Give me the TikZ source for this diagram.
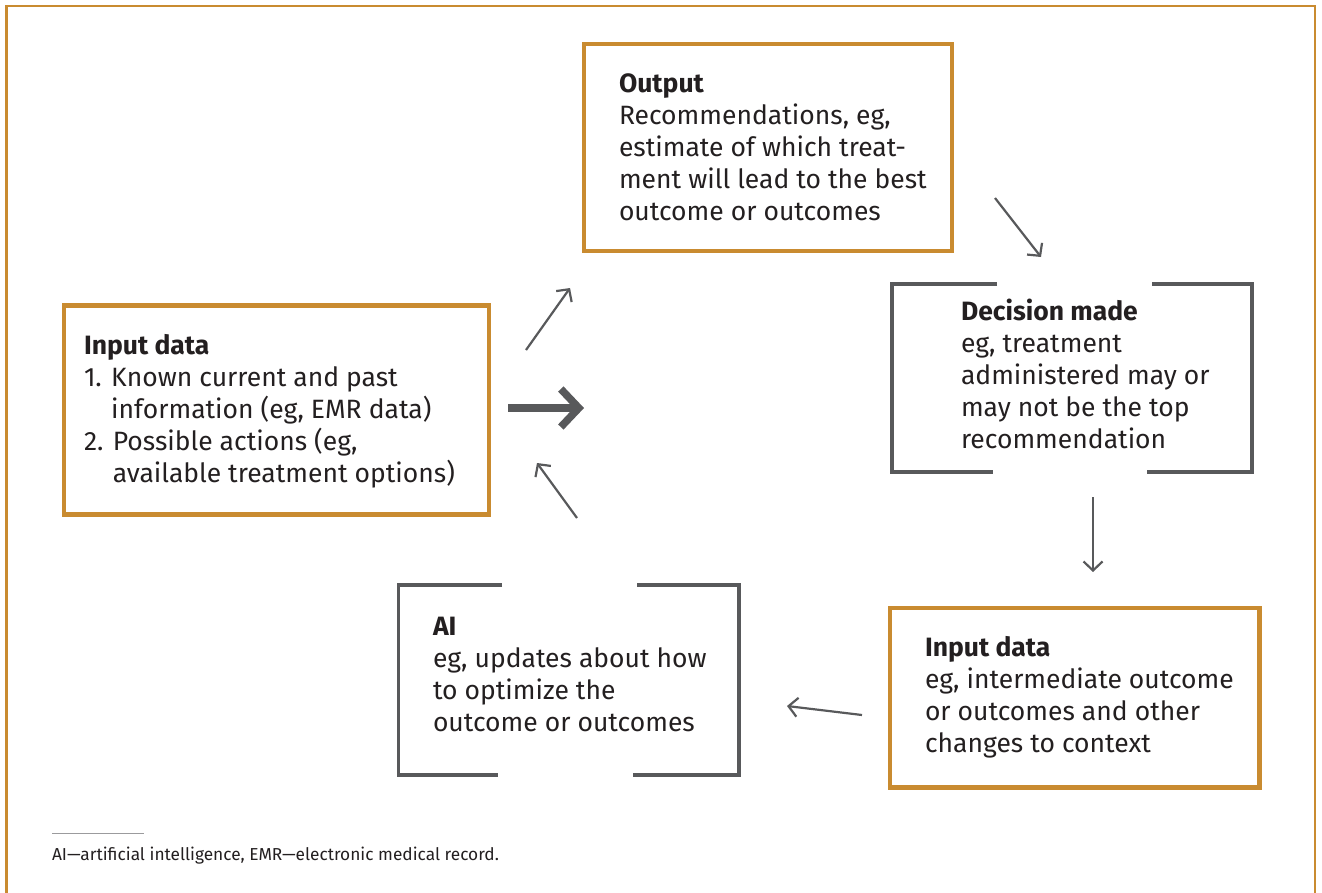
\documentclass[tikz,border=0pt]{standalone}
\usepackage{fontspec}
\setmainfont{Fira Sans}
\usetikzlibrary{arrows.meta,calc}
\definecolor{frameor}{HTML}{C98B30}
\definecolor{linegray}{HTML}{58595B}
\definecolor{txt}{HTML}{231F20}
\begin{document}
\begin{tikzpicture}[x=1pt,y=-1pt,
  orangebox/.style={draw=frameor, line width=4.5pt, inner sep=0pt, outer sep=0pt},
  hidbox/.style={inner sep=0pt, outer sep=0pt},
  bracket/.style={draw=linegray, line width=3.5pt},
  body/.style={anchor=base west, inner sep=0pt, outer sep=0pt, align=left, text=txt, font=\fontsize{26.5}{32}\selectfont},
  note/.style={anchor=base west, inner sep=0pt, outer sep=0pt, text=txt, font=\fontsize{17.3}{22}\selectfont},
  conn/.style={draw=linegray, line width=2.2pt, -{Straight Barb[length=9pt,width=19pt]}},
  mainarrow/.style={draw=linegray, line width=7.5pt, -{Straight Barb[length=18pt,width=38pt]}}]
\useasboundingbox (0,0) rectangle (1322,892);
% outer frame
\coordinate (fbl) at (6.5,910);
\coordinate (ftl) at (6.5,6);
\coordinate (ftr) at (1315,6);
\coordinate (fbr) at (1315,910);
\draw[draw=frameor, line width=2.5pt] (fbl) -- (ftl) -- (ftr) -- (fbr);

% boxes
\node[orangebox, minimum width=368pt, minimum height=207pt] (outbox) at (768,147.5) {};
\node[orangebox, minimum width=425pt, minimum height=209pt] (in1box) at (276.5,410) {};
\node[orangebox, minimum width=369.5pt, minimum height=179.5pt] (in2box) at (1074.75,697.75) {};
\node[hidbox, minimum width=360pt, minimum height=188pt] (decbox) at (1072,378) {};
\node[hidbox, minimum width=340.5pt, minimum height=190pt] (aibox) at (568.75,680) {};

% bracket boxes
\draw[bracket] ($(decbox.north west)+(105,0)$) -- (decbox.north west) -- (decbox.south west) -- ($(decbox.south west)+(101,0)$);
\draw[bracket] ($(decbox.north east)+(-100,0)$) -- (decbox.north east) -- (decbox.south east) -- ($(decbox.south east)+(-105,0)$);
\draw[bracket] ($(aibox.north west)+(103.5,0)$) -- (aibox.north west) -- (aibox.south west) -- ($(aibox.south west)+(99.5,0)$);
\draw[bracket] ($(aibox.north east)+(-102,0)$) -- (aibox.north east) -- (aibox.south east) -- ($(aibox.south east)+(-106,0)$);

% texts (anchored at the baseline of their last line)
\node[body] (outtxt) at (619,220) {\textbf{Output}\\Recommendations, eg,\\estimate of which treat-\\ment will lead to the best\\outcome or outcomes};
\node[body] (dectxt) at (961,448) {\textbf{Decision made}\\eg, treatment\\administered may or\\may not be the top\\recommendation};
\node[body] (in1txt) at (84,482) {\textbf{Input data}\\1. Known current and past\\\hphantom{1. }information (eg, EMR data)\\2. Possible actions (eg,\\\hphantom{2. }available treatment options)};
\node[body] (in2txt) at (925,752) {\textbf{Input data}\\eg, intermediate outcome\\or outcomes and other\\changes to context};
\node[body] (aitxt) at (433,731) {\textbf{AI}\\eg, updates about how\\to optimize the\\outcome or outcomes};

% arrows
\coordinate (a1s) at (995,198);  \coordinate (a1e) at (1041,257);
\coordinate (a2s) at (1093,497); \coordinate (a2e) at (1093,572);
\coordinate (a3s) at (862,715);  \coordinate (a3e) at (787,706);
\coordinate (a4s) at (577,518);  \coordinate (a4e) at (537,463);
\coordinate (a5s) at (526,350);  \coordinate (a5e) at (570,288);
\coordinate (a6s) at (508,408);  \coordinate (a6e) at (584,408);
\draw[conn] (a1s) -- (a1e);
\draw[conn] (a2s) -- (a2e);
\draw[conn] (a3s) -- (a3e);
\draw[conn] (a4s) -- (a4e);
\draw[conn] (a5s) -- (a5e);
\draw[mainarrow] (a6s) -- (a6e);

% footnote
\coordinate (fnl) at (52,833);
\coordinate (fnr) at (144,833);
\draw[draw=linegray!60, line width=1pt] (fnl) -- (fnr);
\node[note] (fntxt) at (52,860) {AI—artificial intelligence, EMR—electronic medical record.};
\end{tikzpicture}
\end{document}
